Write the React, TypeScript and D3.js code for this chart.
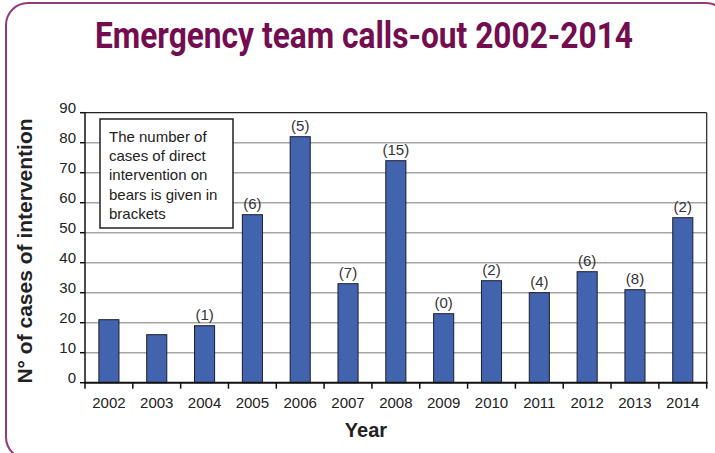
import React from "react";
import * as d3 from "d3";

const years = ["2002","2003","2004","2005","2006","2007","2008","2009","2010","2011","2012","2013","2014"];
const interventions = [21, 16, 19, 56, 82, 33, 74, 23, 34, 30, 37, 31, 55];
const bearCases: (number | null)[] = [null, null, 1, 6, 5, 7, 15, 0, 2, 4, 6, 8, 2];
const yTicks = [0, 10, 20, 30, 40, 50, 60, 70, 80, 90];
const noteLines = ["The number of", "cases of direct", "intervention on", "bears is given in", "brackets"];
const title = "Emergency team calls-out 2002-2014";

const W = 715, H = 453;
const left = 85, right = 706.7, top = 112.7, bottom = 382.7;

export default function App() {
  const xCat = d3.scaleBand<string>().domain(years).range([left, right]).padding(0);
  const xBar = d3.scaleBand<string>().domain(years).range([left, right]).paddingInner(0.58).paddingOuter(0.29);
  const y = d3.scaleLinear().domain([0, 90]).range([bottom, top]);
  const font = "'Liberation Sans', Arial, Helvetica, sans-serif";
  const boundaries = years.map((yr) => xCat(yr) as number).concat([right]);

  return (
    <div style={{ position: "absolute", left: 0, top: 0 }}>
      <svg width={W} height={H} style={{ display: "block" }} fontFamily={font}>
        <rect x={0} y={0} width={W} height={H} fill="#fff" />
        <rect x={6} y={3} width={722} height={456} rx={22} ry={22} fill="none" stroke="#94397b" strokeWidth={2} />
        <text x={364} y={48} textAnchor="middle" fontFamily="Roboto, 'DejaVu Sans', sans-serif" fontWeight="bold" fontSize={36}
          fill="#730d4f" textLength={538} lengthAdjust="spacingAndGlyphs">{title}</text>

        {/* gridlines */}
        {yTicks.filter((t) => t > 0 && t < 90).map((t) => (
          <line key={"g" + t} x1={left} x2={right} y1={y(t)} y2={y(t)} stroke="#a6a6a6" strokeWidth={1.5} />
        ))}
        {/* frame top/right */}
        <line x1={left} x2={right} y1={top} y2={top} stroke="#222" strokeWidth={1.2} />
        <line x1={right} x2={right} y1={top} y2={bottom} stroke="#222" strokeWidth={1.2} />

        {/* note box */}
        <rect x={100} y={119} width={133} height={109} fill="#fff" stroke="#222" strokeWidth={1.5} />
        {noteLines.map((l, i) => (
          <text key={l} x={109} y={142 + i * 19.2} fontSize={15} fill="#222">{l}</text>
        ))}

        {/* bars */}
        {years.map((yr, i) => (
          <rect key={yr} x={xBar(yr)} y={y(interventions[i])} width={xBar.bandwidth()}
            height={bottom - y(interventions[i])} fill="#4264ae" stroke="#1c1c2c" strokeWidth={1} />
        ))}
        {years.map((yr, i) => bearCases[i] === null ? null : (
          <text key={"l" + yr} x={(xBar(yr) as number) + xBar.bandwidth() / 2} y={y(interventions[i]) - 6}
            textAnchor="middle" fontSize={15} fill="#333">({bearCases[i]})</text>
        ))}

        {/* axes */}
        <line x1={left} x2={left} y1={top} y2={bottom} stroke="#111" strokeWidth={1.5} />
        {yTicks.map((t) => (
          <g key={"yt" + t}>
            <line x1={left - 5} x2={left} y1={y(t)} y2={y(t)} stroke="#111" strokeWidth={1.5} />
            <text x={76} y={y(t) + 0.5} textAnchor="end" fontSize={15} fill="#222">{t}</text>
          </g>
        ))}
        <line x1={left - 1} x2={right + 1} y1={bottom} y2={bottom} stroke="#111" strokeWidth={2} />
        {boundaries.map((b, i) => (
          <line key={"xt" + i} x1={b} x2={b} y1={bottom} y2={bottom + 6} stroke="#111" strokeWidth={1.5} />
        ))}
        {years.map((yr) => (
          <text key={"xl" + yr} x={(xCat(yr) as number) + xCat.bandwidth() / 2} y={408} textAnchor="middle" fontSize={15} fill="#222">{yr}</text>
        ))}

        <text x={366} y={437} textAnchor="middle" fontSize={20} fontWeight="bold" fill="#222">Year</text>
        <text transform="translate(32,251) rotate(-90)" textAnchor="middle" fontSize={21} fontWeight="bold" fill="#222">N° of cases of intervention</text>
      </svg>
    </div>
  );
}
